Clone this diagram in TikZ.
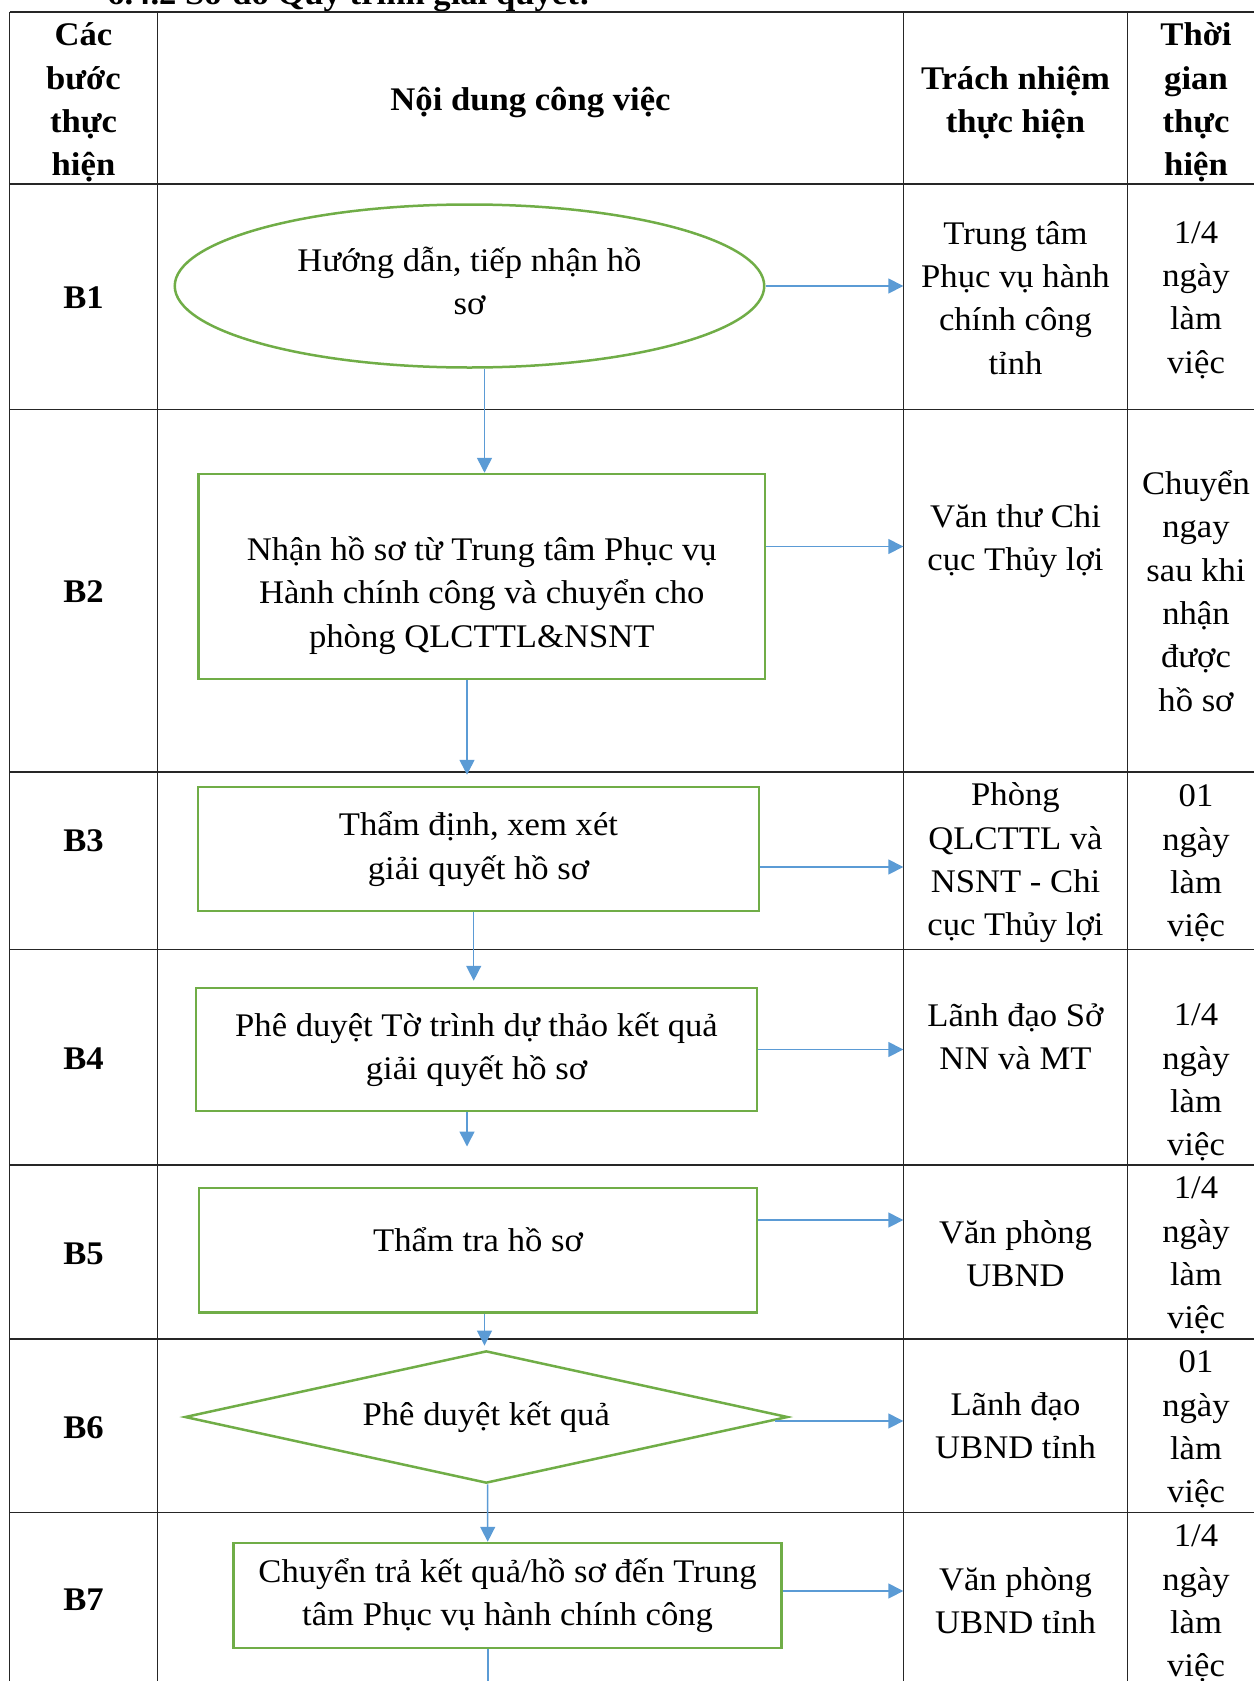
\documentclass[tikz,border=0pt]{standalone}
\usepackage{fontspec}
\setmainfont{Liberation Serif}[FakeStretch=1.05]
\usepackage{xcolor}
\usetikzlibrary{shapes.geometric, arrows.meta, positioning, calc}

\definecolor{flowgreen}{RGB}{112,173,71}
\definecolor{flowblue}{RGB}{91,155,213}

\begin{document}
\begin{tikzpicture}[
    x=1pt, y=-1pt,
    % --- text styles ---
    cell/.style={align=center, inner sep=0pt,
        font=\fontsize{33}{43.3}\selectfont},
    head/.style={cell, font=\fontsize{33}{43.3}\selectfont\bfseries},
    resp/.style={cell, minimum width=224pt},
    % --- flow shapes ---
    task/.style={rectangle, draw=flowgreen, line width=2.5pt, cell},
    start/.style={ellipse, draw=flowgreen, line width=2.5pt, cell},
    check/.style={diamond, aspect=4.56, draw=flowgreen, line width=2.5pt, cell},
    % --- lines ---
    rule/.style={line width=1.5pt, black!85},
    arr/.style={-{Triangle[length=15pt,width=15pt]}, line width=1.5pt, draw=flowblue, fill=flowblue}
]
\useasboundingbox (0,0) rectangle (1254,1681);
\clip (0,0) rectangle (1254,1681);

%%% ================= TITLE (page top) =================
\node[head, anchor=base west] (title) at (107,5) {6.4.2 Sơ đồ Quy trình giải quyết:};

%%% ================= TABLE GRID =================
\draw[rule] (9.5,12) -- (1254,12);
\draw[rule] (9.5,184) -- (1254,184);
\draw[rule] (9.5,409.5) -- (1254,409.5);
\draw[rule] (9.5,772) -- (1254,772);
\draw[rule] (9.5,949.5) -- (1254,949.5);
\draw[rule] (9.5,1165) -- (1254,1165);
\draw[rule] (9.5,1339) -- (1254,1339);
\draw[rule] (9.5,1512.5) -- (1254,1512.5);
\draw[rule] (9.5,12) -- (9.5,1681);
\draw[rule] (157.5,12) -- (157.5,1681);
\draw[rule] (903.5,12) -- (903.5,1681);
\draw[rule] (1127.5,12) -- (1127.5,1681);

%%% ================= HEADER ROW =================
\node[head] (h_step) at (83.5,102.5) {Các\\bước\\thực\\hiện};
\node[head] (h_task) at (530.5,102.5) {Nội dung công việc};
\node[head] (h_resp) at (1015.5,102.5) {Trách nhiệm\\thực hiện};
\node[head] (h_time) at (1196,102.5) {Thời\\gian\\thực\\hiện};

%%% ================= STEP LABELS =================
\node[head] (s1) at (83.5,298) {B1};
\node[head] (s2) at (83.5,591.5) {B2};
\node[head] (s3) at (83.5,841) {B3};
\node[head] (s4) at (83.5,1059) {B4};
\node[head] (s5) at (83.5,1254) {B5};
\node[head] (s6) at (83.5,1427.5) {B6};
\node[head] (s7) at (83.5,1600) {B7};

%%% ================= FLOW =================
\node[start, minimum width=589.5pt, minimum height=163pt] (b1) at (469.5,286)
    {Hướng dẫn, tiếp nhận hồ\\sơ\rule[-10pt]{0pt}{10pt}};
% strut pushes the three lines a little below the box centre
\node[task, minimum width=566.5pt, minimum height=205pt] (b2) at (481.8,576.5)
    {\rule{0pt}{62pt}Nhận hồ sơ từ Trung tâm Phục vụ\\Hành chính công và chuyển cho\\phòng QLCTTL\&NSNT};
\node[task, minimum width=561pt, minimum height=124pt] (b3) at (478.5,849)
    {Thẩm định, xem xét\\giải quyết hồ sơ};
\node[task, minimum width=561pt, minimum height=123pt] (b4) at (476.5,1049.5)
    {Phê duyệt Tờ trình dự thảo kết quả\\giải quyết hồ sơ};
\node[task, minimum width=558pt, minimum height=124.5pt] (b5) at (478,1250)
    {Thẩm tra hồ sơ\rule[-20pt]{0pt}{20pt}};
\node[check, minimum width=603pt, minimum height=132.3pt] (b6) at (486.3,1417)
    {Phê duyệt kết quả};
\node[task, minimum width=548pt, minimum height=105pt] (b7) at (507.6,1595.5)
    {Chuyển trả kết quả/hồ sơ đến Trung\\tâm Phục vụ hành chính công};
\coordinate (exit) at (488,1720);

%%% ================= RESPONSIBILITY =================
\node[resp] (r1) at (1015.5,298) {Trung tâm\\Phục vụ hành\\chính công\\tỉnh};
\node[resp] (r2) at (1015.5,541) {Văn thư Chi\\cục Thủy lợi};
\node[resp] (r3) at (1015.5,863) {Phòng\\QLCTTL và\\NSNT - Chi\\cục Thủy lợi};
\node[resp] (r4) at (1015.5,1036.5) {Lãnh đạo Sở\\NN và MT};
\node[resp] (r5) at (1015.5,1254) {Văn phòng\\UBND};
\node[resp] (r6) at (1015.5,1426) {Lãnh đạo\\UBND tỉnh};
\node[resp] (r7) at (1015.5,1600.5) {Văn phòng\\UBND tỉnh};

%%% ================= TIME =================
\node[cell] (t1) at (1196,300) {1/4\\ngày\\làm\\việc};
\node[cell] (t2) at (1196,591) {Chuyển\\ngay\\sau khi\\nhận\\được\\hồ sơ};
\node[cell] (t3) at (1196,863.5) {01\\ngày\\làm\\việc};
\node[cell] (t4) at (1196,1082.5) {1/4\\ngày\\làm\\việc};
\node[cell] (t5) at (1196,1255.5) {1/4\\ngày\\làm\\việc};
\node[cell] (t6) at (1196,1429.5) {01\\ngày\\làm\\việc};
\node[cell] (t7) at (1196,1603.5) {1/4\\ngày\\làm\\việc};

%%% ================= ARROWS =================
%% down the flow
\draw[arr] ([xshift=15pt]b1.south) -- ([xshift=2.7pt]b2.north);
\draw[arr, shorten >=11pt] ([xshift=-14.8pt]b2.south) -- ([xshift=-11.5pt]b3.north);
\draw[arr, shorten >=6pt] ([xshift=-4.8pt]b3.south) -- ([xshift=-2.8pt]b4.north);
\draw[arr, shorten >=40pt] ([xshift=-9.5pt]b4.south) -- ([xshift=-11pt]b5.north);
\draw[arr, shorten >=4pt] ([xshift=6.5pt]b5.south) -- ([xshift=-1.8pt]b6.north);
\draw[arr] ([xshift=1.4pt]b6.south) -- ([xshift=-19.9pt]b7.north);
\draw[arr] ([xshift=-19.6pt]b7.south) -- (exit);

%% across to the responsible unit
\coordinate (o1) at (b1.east);
\coordinate (o2) at ([yshift=30pt]b2.east);
\coordinate (o3) at ([yshift=-18pt]b3.east);
\coordinate (o4) at (b4.east);
\coordinate (o5) at ([yshift=30pt]b5.east);
\coordinate (o6) at ([xshift=-14pt, yshift=-4pt]b6.east);
\coordinate (o7) at ([yshift=4.5pt]b7.east);
\draw[arr] (o1) -- (o1 -| r1.west);
\draw[arr] (o2) -- (o2 -| r2.west);
\draw[arr] (o3) -- (o3 -| r3.west);
\draw[arr] (o4) -- (o4 -| r4.west);
\draw[arr] (o5) -- (o5 -| r5.west);
\draw[arr] (o6) -- (o6 -| r6.west);
\draw[arr] (o7) -- (o7 -| r7.west);

\end{tikzpicture}
\end{document}
